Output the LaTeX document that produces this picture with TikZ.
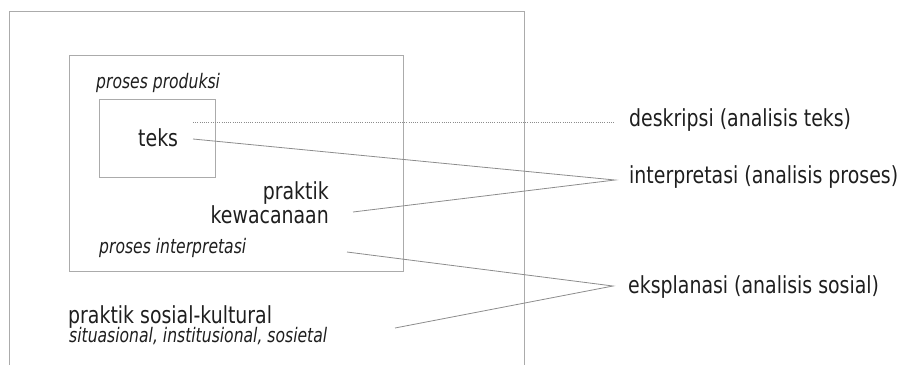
\documentclass[tikz,border=0pt]{standalone}
\usepackage{fontspec}
\setmainfont{DejaVu Sans}[FakeStretch=0.805]
\newfontfamily\itfont{DejaVu Sans}[FakeStretch=0.78]
\newcommand\mytightlines{\lineskiplimit=-50pt\relax}
\definecolor{boxgray}{HTML}{ABABAB}
\definecolor{linegray}{HTML}{8C8C8C}
\definecolor{txt}{HTML}{1E1E1E}
\begin{document}
\begin{tikzpicture}[x=1pt,y=-1pt,
  frame/.style={draw=boxgray,line width=0.9pt},
  conn/.style={draw=linegray,line width=0.8pt},
  dotconn/.style={draw=linegray,line width=0.7pt,dash pattern=on 1pt off 1.2pt},
  big/.style={inner sep=0pt,text=txt,font=\fontsize{23.5}{23.5}\selectfont\mytightlines},
  small/.style={inner sep=0pt,text=txt,font=\itfont\itshape\fontsize{20}{19}\selectfont},
]
\useasboundingbox (0,0) rectangle (903,365);
% frames
\draw[frame] (9.5,365) -- (9.5,11.5) -- (524,11.5) -- (524,365);
\node[frame,inner sep=0pt,minimum width=334pt,minimum height=216pt,anchor=north west] (mid) at (69,55) {};
\node[frame,inner sep=0pt,minimum width=116pt,minimum height=78pt,anchor=north west] (inner) at (99,99) {};
% left texts
\node[small,anchor=base west] (prod) at (96,88) {proses produksi};
\node[big,anchor=base west] (teks) at (138,146) {teks};
\node[big,align=right,anchor=base east] (prak) at (329,223) {praktik\\kewacanaan};
\node[small,anchor=base west] (pint) at (99,253) {proses interpretasi};
\node[big,anchor=base west] (sos) at (68,323) {praktik sosial-kultural};
\node[small,anchor=base west] (sit) at (69,342) {situasional, institusional, sosietal};
% right labels
\node[big,anchor=base west] (desk) at (629,126) {deskripsi (analisis teks)};
\node[big,anchor=base west] (intp) at (629,183) {interpretasi (analisis proses)};
\node[big,anchor=base west] (eksp) at (628,293) {eksplanasi (analisis sosial)};
% connector ends
\coordinate (d0) at (193,122.5);
\coordinate (d1) at (615,122.5);
\coordinate (t0) at (193,139);
\coordinate (k0) at (353,212);
\coordinate (ai) at (615,180);
\coordinate (p0) at (347,252);
\coordinate (s0) at (395,328);
\coordinate (ae) at (613,286);
\draw[dotconn] (d0) -- (d1);
\draw[conn] (t0) -- (ai) -- (k0);
\draw[conn] (p0) -- (ae) -- (s0);
\end{tikzpicture}
\end{document}
